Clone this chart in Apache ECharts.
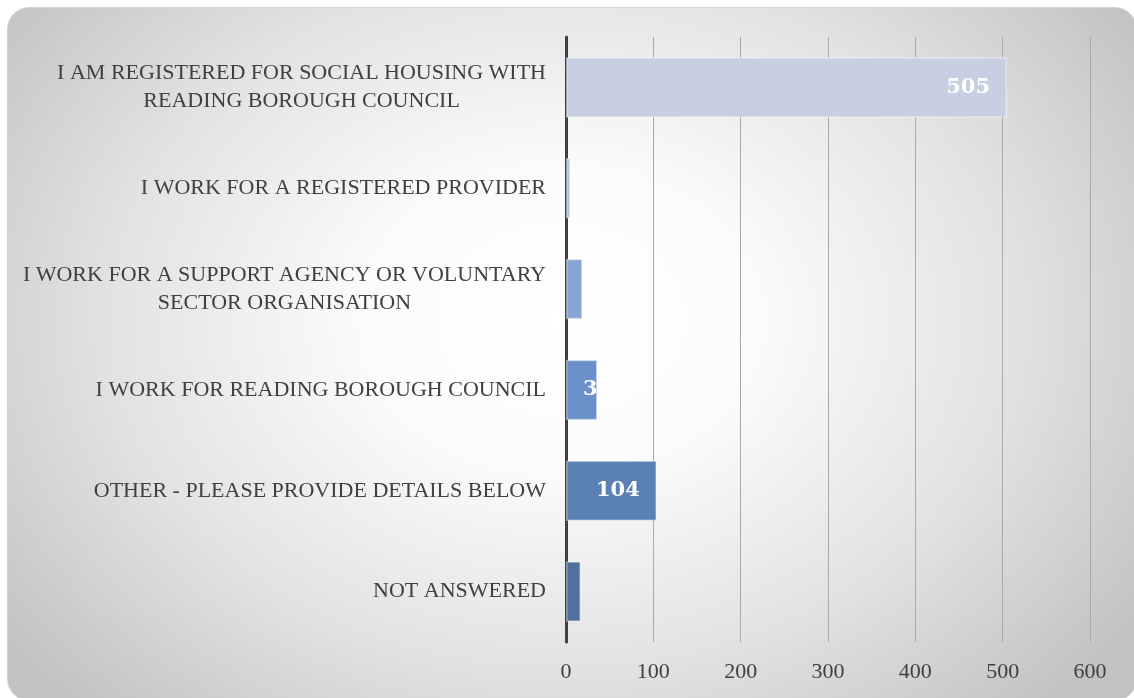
<!DOCTYPE html>
<html lang="en">
<head>
    <meta charset="UTF-8">
    <title>Respondent type</title>
    <script src='https://cdn.jsdelivr.net/npm/echarts@6/dist/echarts.min.js'></script>
    <style>
        body { margin: 0; background: #ffffff; overflow: hidden; }
        #bg {
            position: absolute; left: 7px; top: 7px; width: 1128px; height: 692px;
            border-radius: 22px; border: 1px solid #d4d4d4;
            background: radial-gradient(ellipse 62% 78% at 49% 45%, #ffffff 0%, #fbfbfb 28%, #e2e2e2 65%, #c2c2c2 100%);
        }
        #chart { position: absolute; left: 0; top: 0; width: 1134px; height: 698px; }
    </style>
</head>
<body>
<div id="bg"></div>
<div id="chart"></div>
<script>
    // data
    let categories = [
        'I AM REGISTERED FOR SOCIAL HOUSING WITH\nREADING BOROUGH COUNCIL',
        'I WORK FOR A REGISTERED PROVIDER',
        'I WORK FOR A SUPPORT AGENCY OR VOLUNTARY\nSECTOR ORGANISATION',
        'I WORK FOR READING BOROUGH COUNCIL',
        'OTHER - PLEASE PROVIDE DETAILS BELOW',
        'NOT ANSWERED'
    ];
    let values = [505, 5, 19, 36, 104, 17];
    let labelled = [true, false, false, true, true, false];
    let valueTicks = [0, 100, 200, 300, 400, 500, 600];

    let barColors = ['#c6d0e2', '#aabde0', '#87a4d4', '#6a8fc9', '#5b80b3', '#52709d'];
    let serif = "'Liberation Serif', 'DejaVu Serif', serif";

    let chart = echarts.init(document.getElementById('chart'));

    let barData = values.map(function (v, i) {
        let item = {
            value: v,
            itemStyle: { color: barColors[i] }
        };
        if (labelled[i]) {
            // small bar: label sits at the base and only the first digit shows
            item.label = v < 50
                ? { show: true, position: 'insideLeft', distance: 17, width: 20, overflow: 'truncate', ellipsis: '' }
                : { show: true, position: 'insideRight', distance: 17 };
        }
        return item;
    });

    let option = {
        animation: false,
        grid: { left: 566, right: 44, top: 37, bottom: 56, containLabel: false },
        xAxis: {
            type: 'value',
            min: valueTicks[0],
            max: valueTicks[valueTicks.length - 1],
            interval: valueTicks[1] - valueTicks[0],
            axisLine: { show: false },
            axisTick: { show: false },
            splitLine: { show: true, lineStyle: { color: '#a9a9a9', width: 1 } },
            axisLabel: { color: '#404040', fontFamily: serif, fontSize: 22, margin: 19 }
        },
        yAxis: {
            type: 'category',
            inverse: true,
            data: categories,
            axisTick: { show: false },
            axisLine: { show: true, lineStyle: { color: '#404040', width: 3 } },
            axisLabel: {
                margin: 20,
                color: '#404040',
                fontFamily: serif,
                fontSize: 22,
                lineHeight: 28,
                formatter: function (txt) {
                    return txt.split('\n').map(function (l) { return '{c|' + l + '}'; }).join('\n');
                },
                rich: {
                    c: { align: 'center', color: '#404040', fontFamily: serif, fontSize: 22, lineHeight: 28 }
                }
            }
        },
        series: [{
            type: 'bar',
            data: barData,
            barCategoryGap: '40%',
            itemStyle: { borderColor: 'rgba(255,255,255,0.4)', borderWidth: 1.5 },
            label: {
                show: false,
                color: '#ffffff',
                fontFamily: "'DejaVu Serif', serif",
                fontWeight: 'bold',
                fontSize: 21
            }
        }]
    };
    chart.setOption(option);
</script>
</body>
</html>
